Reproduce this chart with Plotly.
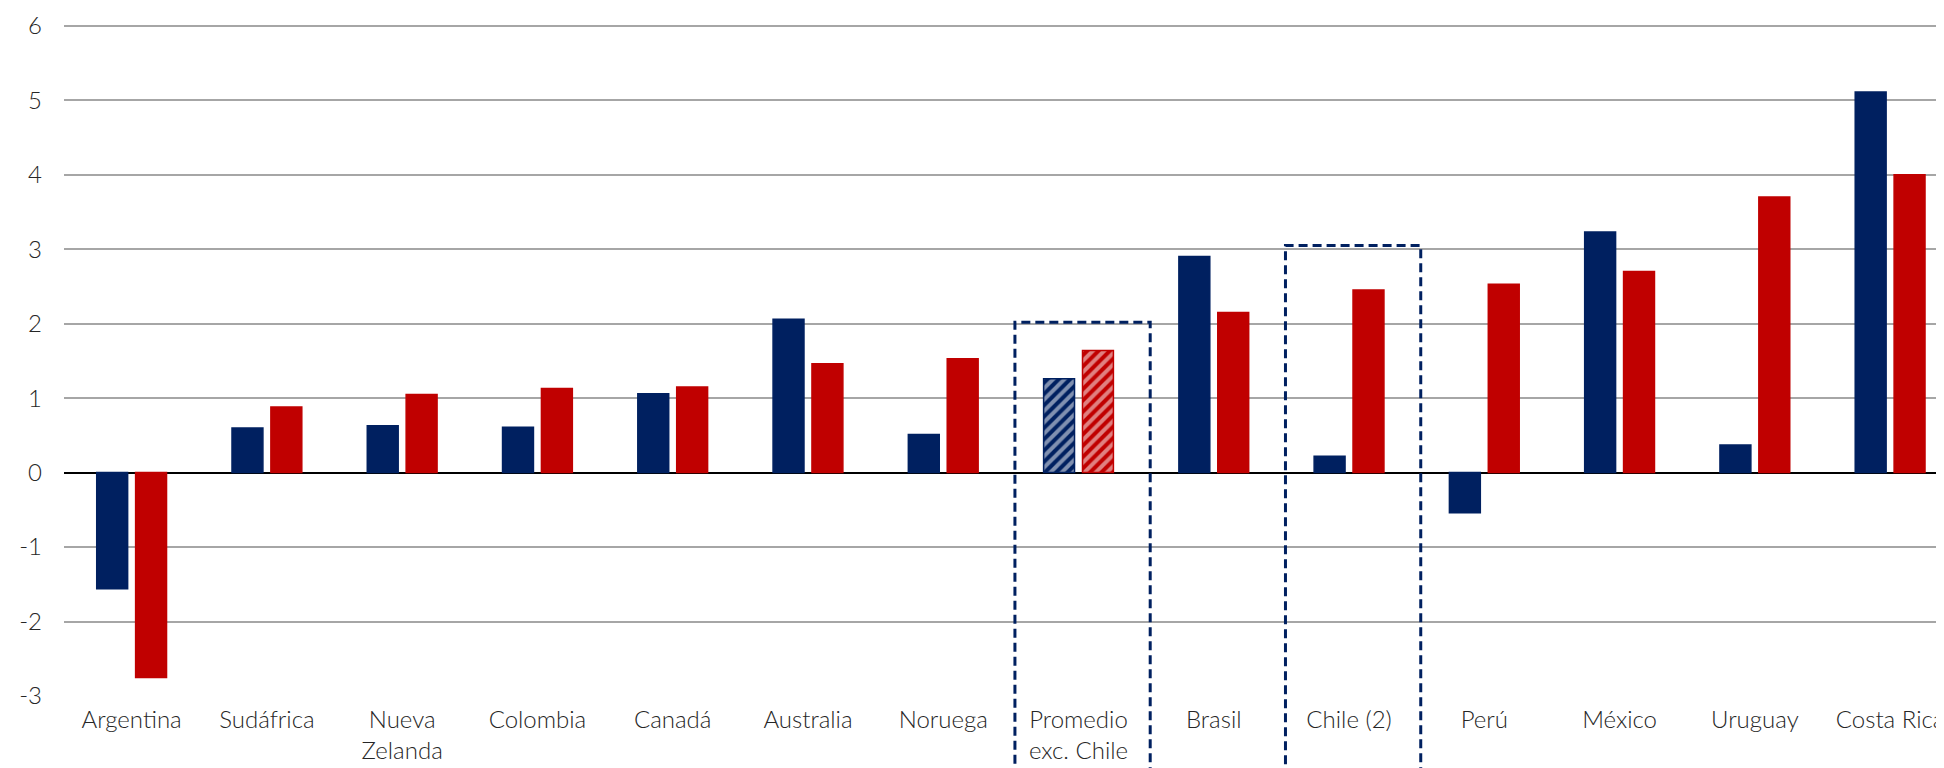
import plotly.graph_objects as go

categories = ["Argentina", "Sudáfrica", "Nueva<br>Zelanda", "Colombia", "Canadá", "Australia",
              "Noruega", "Promedio<br>exc. Chile", "Brasil", "Chile (2)", "Perú", "México",
              "Uruguay", "Costa Rica"]
serie_azul = [-1.56, 0.60, 0.63, 0.61, 1.06, 2.06, 0.51, 1.26, 2.90, 0.22, -0.54, 3.23, 0.37, 5.11]
serie_roja = [-2.75, 0.88, 1.05, 1.13, 1.15, 1.46, 1.53, 1.64, 2.15, 2.45, 2.53, 2.70, 3.70, 4.00]
y_ticks = [-3, -2, -1, 0, 1, 2, 3, 4, 5, 6]
y_ticktext = ["-3", "-2", "-1", "0", "1", "2", "3", "4", "5", "6"]
hatched_category = "Promedio<br>exc. Chile"
box_categories = ["Promedio<br>exc. Chile", "Chile (2)"]
box_tops = [2.02, 3.05]

NAVY = "#002060"
RED = "#C00000"
FONT = dict(family="Lato, 'Open Sans', sans-serif", size=24, color="#262626", weight=300)

ymin, ymax = -3, 6.05
patterns = ["/" if c == hatched_category else "" for c in categories]

fig = go.Figure()
for vals, col, off in [(serie_azul, NAVY, -0.258), (serie_roja, RED, 0.0295)]:
    fig.add_trace(go.Bar(
        x=categories, y=vals, width=0.2285, offset=off,
        marker=dict(color=col, line=dict(color=col, width=1.5),
                    pattern=dict(shape=patterns, fillmode="overlay", fgcolor="white",
                                 size=8, solidity=0.5)),
        showlegend=False, hoverinfo="skip"))

for cat, top in zip(box_categories, box_tops):
    i = categories.index(cat)
    fig.add_shape(type="rect", xref="x", yref="paper",
                  x0=i - 0.47, x1=i + 0.53,
                  y0=-0.5, y1=(top - ymin) / (ymax - ymin),
                  line=dict(color=NAVY, width=3, dash="9px,5px"),
                  fillcolor="rgba(0,0,0,0)", layer="above")

fig.update_layout(
    width=1936, height=760,
    margin=dict(l=56, r=0, t=14, b=72),
    plot_bgcolor="white", paper_bgcolor="white",
    font=FONT, barmode="overlay",
    xaxis=dict(type="category", range=[-0.5, 13.354], showgrid=False, ticks="",
               showline=False, tickfont=FONT, ticklabelstandoff=7),
    yaxis=dict(range=[ymin, ymax], tickvals=y_ticks, ticktext=y_ticktext, showgrid=True,
               gridcolor="#a6a6a6", gridwidth=1.5, zeroline=True,
               zerolinecolor="black", zerolinewidth=1.5, ticks="",
               showline=False, tickfont=FONT, ticklabelstandoff=21),
)

fig.write_html("out.html")
